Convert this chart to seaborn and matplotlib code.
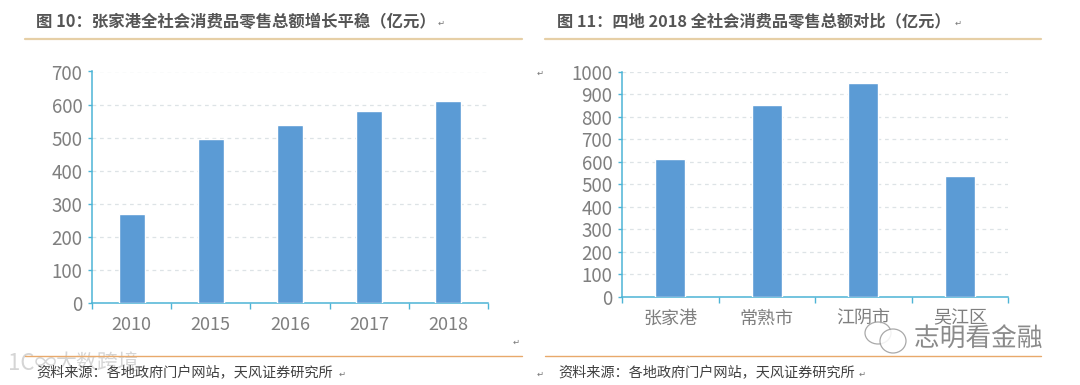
import matplotlib
matplotlib.use('Agg')
import matplotlib.pyplot as plt
import matplotlib.patheffects as path_effects
from matplotlib.patches import Ellipse
import seaborn as sns
import pandas as pd

# === Data ===
years = ["2010", "2015", "2016", "2017", "2018"]
sales_zjg = [268, 497, 537, 581, 612]
cities = ["张家港", "常熟市", "江阴市", "吴江区"]
sales_cities = [610, 852, 950, 535]

title_left = "图 10：张家港全社会消费品零售总额增长平稳（亿元）"
title_right = "图 11：四地 2018 全社会消费品零售总额对比（亿元）"
source_text = "资料来源：各地政府门户网站，天风证券研究所"

# === Style ===
sns.set_theme(style="white")
plt.rcParams['font.family'] = ['Noto Sans CJK SC', 'DejaVu Sans']

W, H = 1080, 385
BAR = "#5B9BD5"
AXIS = "#4DB4D6"
GRID = "#DDE3E6"
TICK = "#7F7F7F"
HEAD = "#555555"

fig = plt.figure(figsize=(W / 100, H / 100), dpi=100)


def px_axes(x0, x1, y_top, y_bot):
    return fig.add_axes([x0 / W, 1 - y_bot / H, (x1 - x0) / W, (y_bot - y_top) / H])


def fig_text(x, y, s, **kw):
    return fig.text(x / W, 1 - y / H, s, va='center', **kw)


def fig_line(x0, x1, y, color, lw):
    fig.add_artist(plt.Line2D([x0 / W, x1 / W], [1 - y / H, 1 - y / H], color=color, lw=lw))


def bar_panel(ax, cats, vals, ymax, step, width, ysize):
    df = pd.DataFrame({"cat": cats, "val": vals})
    sns.barplot(data=df, x="cat", y="val", color=BAR, saturation=1, width=width, ax=ax, zorder=3)
    ax.set_xlim(-0.5, len(cats) - 0.5)
    ax.set_ylim(0, ymax)
    ax.set_xlabel("")
    ax.set_ylabel("")
    ax.set_yticks(range(0, ymax + 1, step))
    ax.yaxis.grid(True, color=GRID, lw=0.9, ls=(0, (3, 3)), zorder=0)
    ax.xaxis.grid(False)
    for s in ["top", "right"]:
        ax.spines[s].set_visible(False)
    for s in ["left", "bottom"]:
        ax.spines[s].set_color(AXIS)
        ax.spines[s].set_linewidth(1.1)
    ax.set_xticks([i - 0.5 for i in range(len(cats) + 1)], minor=True)
    ax.tick_params(axis='x', which='minor', bottom=True, length=4, width=1, color=AXIS)
    ax.tick_params(axis='x', which='major', bottom=False, length=4, labelsize=13, labelcolor=TICK, pad=5)
    ax.tick_params(axis='y', left=True, length=3, width=1, color=AXIS, labelsize=ysize, labelcolor=TICK, pad=4)


ax1 = px_axes(92, 488, 71.5, 303)
bar_panel(ax1, years, sales_zjg, 700, 100, 0.33, 13.5)
ax2 = px_axes(622, 1008, 71.5, 297)
bar_panel(ax2, cities, sales_cities, 1000, 100, 0.31, 13.5)

# header / footer rules
fig_line(25, 522, 38.5, "#E6CFA6", 1.6)
fig_line(545, 1041, 38.5, "#E6CFA6", 1.6)
fig_line(25, 522, 356, "#E8A96B", 1)
fig_line(545, 1041, 356, "#E8A96B", 1)

fig_text(36, 22, title_left, fontsize=11.8, fontweight='bold', color=HEAD)
fig_text(557, 22, title_right, fontsize=11.7, fontweight='bold', color=HEAD)
fig_text(36, 373, source_text, fontsize=10.2, color="#404040")
fig_text(558, 373, source_text, fontsize=10.2, color="#404040")

# paragraph marks
for x, y in [(441, 23), (958, 23), (540, 73), (516, 342), (342, 374), (862, 374), (540, 374)]:
    fig_text(x, y, "↵", fontsize=6, color="#777777", ha='center')

# watermarks
halo = [path_effects.withStroke(linewidth=1.5, foreground="white")]
fig_text(914, 339, "志明看金融", fontsize=18.5, color="#8A8A8A", path_effects=halo)
fig_text(55, 364, "大数跨境", fontsize=15, color="#D5D5D5", zorder=0)
fig_text(8, 363, "1C∞", fontsize=16, color="#D5D5D5", zorder=0)
for cx, cy, w, h in [(878, 333, 26, 22), (893, 341, 26, 24)]:
    fig.add_artist(Ellipse((cx / W, 1 - cy / H), w / W, h / H, fc="white", ec="#9A9A9A", lw=0.9, alpha=0.85))

fig.savefig("out.png", dpi=100)
